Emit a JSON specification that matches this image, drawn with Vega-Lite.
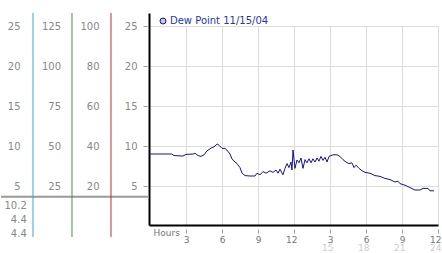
{
  "$schema": "https://vega.github.io/schema/vega-lite/v6.json",
  "width": 289,
  "height": 212,
  "autosize": {"type": "none"},
  "padding": {"left": 149, "top": 13, "right": 4, "bottom": 28},
  "background": "white",
  "config": {"view": {"stroke": null}, "font": "DejaVu Sans"},
  "data": {"values": [{}]},
  "datasets": {
    "dew": [
      {"h": 0, "v": 9.0}, {"h": 0.83, "v": 9.0}, {"h": 1.8, "v": 9.0}, {"h": 2.0, "v": 8.8},
      {"h": 2.75, "v": 8.75}, {"h": 3.0, "v": 8.95}, {"h": 3.6, "v": 9.0}, {"h": 3.75, "v": 9.1},
      {"h": 4.0, "v": 8.8}, {"h": 4.25, "v": 8.7}, {"h": 4.5, "v": 8.9}, {"h": 4.75, "v": 9.4},
      {"h": 5.1, "v": 9.75}, {"h": 5.33, "v": 9.9}, {"h": 5.6, "v": 10.25}, {"h": 5.75, "v": 10.1},
      {"h": 6.0, "v": 9.7}, {"h": 6.25, "v": 9.7}, {"h": 6.4, "v": 9.5}, {"h": 6.67, "v": 9.0},
      {"h": 6.83, "v": 8.4}, {"h": 7.08, "v": 8.0}, {"h": 7.25, "v": 7.8}, {"h": 7.5, "v": 7.3},
      {"h": 7.67, "v": 6.6}, {"h": 7.92, "v": 6.3}, {"h": 8.33, "v": 6.25}, {"h": 8.75, "v": 6.25},
      {"h": 8.92, "v": 6.6}, {"h": 9.17, "v": 6.4}, {"h": 9.42, "v": 6.8}, {"h": 9.67, "v": 6.6},
      {"h": 10.0, "v": 6.9}, {"h": 10.25, "v": 6.7}, {"h": 10.5, "v": 7.0}, {"h": 10.67, "v": 6.6},
      {"h": 10.83, "v": 7.1}, {"h": 11.08, "v": 6.4}, {"h": 11.25, "v": 7.2}, {"h": 11.42, "v": 7.8},
      {"h": 11.58, "v": 7.3}, {"h": 11.75, "v": 8.0}, {"h": 11.83, "v": 7.0}, {"h": 11.92, "v": 9.5},
      {"h": 12.08, "v": 7.2}, {"h": 12.25, "v": 8.25}, {"h": 12.42, "v": 7.9}, {"h": 12.58, "v": 8.5},
      {"h": 12.75, "v": 7.2}, {"h": 12.92, "v": 8.3}, {"h": 13.08, "v": 7.9}, {"h": 13.25, "v": 8.4},
      {"h": 13.42, "v": 7.9}, {"h": 13.58, "v": 8.4}, {"h": 13.75, "v": 8.0}, {"h": 13.92, "v": 8.5},
      {"h": 14.08, "v": 8.1}, {"h": 14.25, "v": 8.7}, {"h": 14.42, "v": 8.2}, {"h": 14.58, "v": 8.6},
      {"h": 14.75, "v": 8.0}, {"h": 14.92, "v": 8.7}, {"h": 15.08, "v": 8.8}, {"h": 15.25, "v": 8.9},
      {"h": 15.58, "v": 8.9}, {"h": 15.83, "v": 8.7}, {"h": 16.08, "v": 8.3}, {"h": 16.33, "v": 8.0},
      {"h": 16.58, "v": 7.8}, {"h": 16.83, "v": 7.9}, {"h": 17.0, "v": 7.3}, {"h": 17.17, "v": 7.6},
      {"h": 17.42, "v": 7.2}, {"h": 17.67, "v": 6.9}, {"h": 17.92, "v": 6.7}, {"h": 18.33, "v": 6.6},
      {"h": 18.75, "v": 6.3}, {"h": 19.17, "v": 6.2}, {"h": 19.58, "v": 5.95}, {"h": 20.0, "v": 5.8},
      {"h": 20.42, "v": 5.5}, {"h": 20.67, "v": 5.6}, {"h": 20.83, "v": 5.3}, {"h": 21.25, "v": 5.1},
      {"h": 21.67, "v": 4.8}, {"h": 22.08, "v": 4.5}, {"h": 22.5, "v": 4.5}, {"h": 22.75, "v": 4.7},
      {"h": 23.17, "v": 4.7}, {"h": 23.33, "v": 4.4}, {"h": 23.67, "v": 4.4}
    ]
  },
  "layer": [
    {
      "layer": [
        {
          "mark": {"type": "rule", "color": "#999999", "strokeWidth": 2},
          "encoding": {
            "x": {"datum": -12.42, "type": "quantitative"},
            "x2": {"datum": -0.0833},
            "y": {"datum": 3.66, "type": "quantitative"}
          }
        },
        {
          "data": {"name": "dew"},
          "mark": {"type": "line", "strokeWidth": 1},
          "encoding": {
            "x": {
              "field": "h", "type": "quantitative",
              "scale": {"domain": [-0.0833, 24], "nice": false, "zero": false},
              "axis": {
                "values": [3, 6, 9, 12, 15, 18, 21, 24],
                "labelExpr": "datum.value > 12 ? datum.value - 12 : datum.value",
                "grid": true, "gridColor": "#dddddd", "gridDash": [0, 12, 200],
                "domainColor": "black", "domainWidth": 2,
                "tickColor": "#999999", "tickSize": 8, "tickDash": [0, 4, 4],
                "labelPadding": 2, "labelColor": "#777777", "labelFontSize": 9,
                "labelAngle": 0, "labelBaseline": "top", "labelAlign": "right", "labelOffset": 3, "labelFlush": false,
                "title": "Hours", "titleX": 4, "titleY": 7, "titleAlign": "left",
                "titleBaseline": "middle", "titleColor": "#777777",
                "titleFontWeight": "normal", "titleFontSize": 9
              }
            },
            "y": {
              "field": "v", "type": "quantitative",
              "scale": {"domain": [0.125, 26.625], "nice": false, "zero": false},
              "axis": {
                "values": [5, 10, 15, 20, 25],
                "grid": true, "gridColor": "#dddddd",
                "domainColor": "black", "domainWidth": 2,
                "tickColor": "#999999", "tickSize": 6, "tickDash": [0, 2, 4],
                "labelPadding": 6, "labelColor": "#888888", "labelFontSize": 10,
                "title": null
              }
            },
            "color": {
              "datum": "Dew Point 11/15/04", "type": "nominal",
              "scale": {"range": ["#121299"]},
              "legend": {
                "orient": "none", "legendX": 9, "legendY": 3, "title": null,
                "padding": 0, "symbolType": "circle", "symbolSize": 36,
                "labelOffset": 2, "labelFontSize": 10, "labelColor": "#1f35b3",
                "encode": {"symbols": {"update": {"fill": {"value": "#c8c8c8"}, "stroke": {"value": "#8a8a8a"}, "strokeWidth": {"value": 1}, "opacity": {"value": 1}}}}
              }
            }
          }
        }
      ]
    },
    {
      "mark": {"type": "text", "align": "right", "baseline": "top", "lineHeight": 14, "fontSize": 10, "color": "#888888"},
      "encoding": {
        "text": {"value": ["10.2", "4.4", "4.4"]},
        "x": {
          "datum": -10.27, "type": "quantitative",
          "scale": {"domain": [-0.0833, 24], "nice": false, "zero": false},
          "axis": {
            "orient": "bottom", "values": [15, 18, 21, 24], "grid": false,
            "domain": false, "ticks": false, "labelPadding": 18.5,
            "labelColor": "#cccccc", "labelFontSize": 9, "labelAngle": 0,
            "labelBaseline": "top", "labelAlign": "right", "labelOffset": 3, "labelFlush": false, "title": null
          }
        },
        "y": {"datum": 3.1, "type": "quantitative", "scale": {"domain": [0.125, 26.625], "nice": false, "zero": false}, "axis": null}
      }
    },
    {
      "mark": {"type": "rule", "color": "#3aa6d6", "strokeWidth": 1},
      "encoding": {
        "x": {"datum": -9.75, "type": "quantitative", "scale": {"domain": [-0.0833, 24], "nice": false, "zero": false}, "axis": null},
        "y": {
          "datum": -1.375, "type": "quantitative",
          "scale": {"domain": [0.125, 26.625], "nice": false, "zero": false},
          "axis": {"orient": "left", "offset": 116, "values": [5, 10, 15, 20, 25], "grid": false, "domain": false, "ticks": false, "labelPadding": 13, "labelColor": "#888888", "labelFontSize": 10, "title": null}
        },
        "y2": {"datum": 26.625}
      }
    },
    {
      "mark": {"type": "rule", "color": "#3c9c3c", "strokeWidth": 1},
      "encoding": {
        "x": {"datum": -6.5, "type": "quantitative", "scale": {"domain": [-0.0833, 24], "nice": false, "zero": false}, "axis": null},
        "y": {
          "datum": -6.875, "type": "quantitative",
          "scale": {"domain": [0.625, 133.125], "nice": false, "zero": false},
          "axis": {"orient": "left", "offset": 77, "values": [25, 50, 75, 100, 125], "grid": false, "domain": false, "ticks": false, "labelPadding": 11.5, "labelColor": "#888888", "labelFontSize": 10, "title": null}
        },
        "y2": {"datum": 133.125}
      }
    },
    {
      "mark": {"type": "rule", "color": "#b83030", "strokeWidth": 1},
      "encoding": {
        "x": {"datum": -3.25, "type": "quantitative", "scale": {"domain": [-0.0833, 24], "nice": false, "zero": false}, "axis": null},
        "y": {
          "datum": -5.5, "type": "quantitative",
          "scale": {"domain": [0.5, 106.5], "nice": false, "zero": false},
          "axis": {"orient": "left", "offset": 38, "values": [20, 40, 60, 80, 100], "grid": false, "domain": false, "ticks": false, "labelPadding": 12, "labelColor": "#888888", "labelFontSize": 10, "title": null}
        },
        "y2": {"datum": 106.5}
      }
    }
  ],
  "resolve": {
    "scale": {"x": "independent", "y": "independent"},
    "axis": {"x": "independent", "y": "independent"}
  }
}
